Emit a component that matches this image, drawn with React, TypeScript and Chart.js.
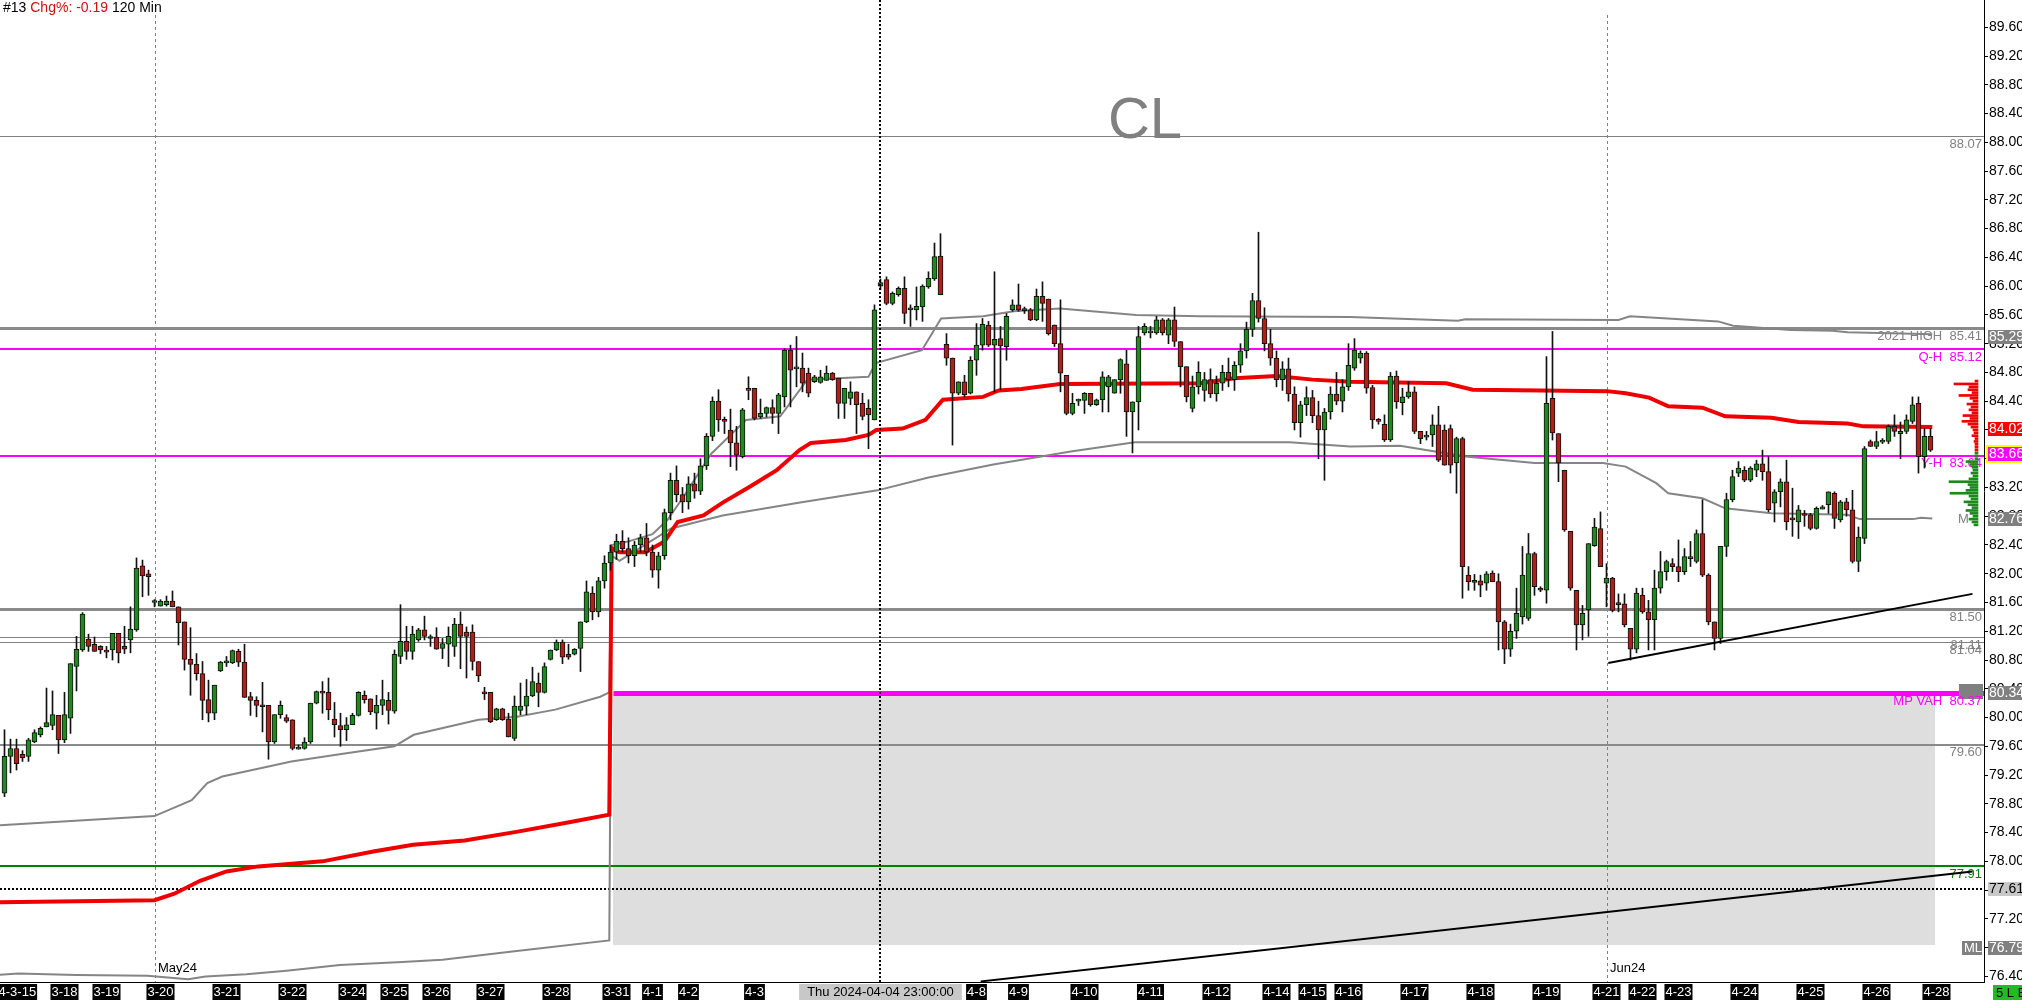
import React, { useEffect, useRef } from "react";
import { Chart, registerables } from "chart.js";

Chart.register(...registerables);

const FONT = "'Liberation Sans', Arial, sans-serif";

// ---------- candle data (120 min bars, index = bar number) ----------
const OPEN = [
  78.95, 79.46, 79.57, 79.49, 79.46, 79.66, 79.76, 79.87, 79.89, 80.03,
  79.69, 79.99, 80.71, 80.94, 81.09, 81.02, 80.99, 80.92, 80.94, 81.17,
  80.99, 81.08, 81.22, 82.11, 82.0, 81.6, 81.55, 81.57, 81.62, 81.54,
  81.33, 80.81, 80.74, 80.61, 80.25, 80.06, 80.65, 80.76, 80.76, 80.92,
  80.77, 80.29, 80.24, 80.17, 80.17, 79.66, 80.04, 80.0, 79.97, 79.56,
  79.57, 79.66, 80.2, 80.35, 80.35, 79.98, 79.89, 79.83, 79.9, 80.03,
  80.31, 80.26, 80.06, 80.17, 80.24, 80.09, 80.85, 81.06, 80.92, 81.08,
  81.22, 81.12, 81.12, 80.96, 81.02, 80.99, 81.3, 81.19, 81.19, 80.78,
  80.35, 80.35, 79.97, 80.12, 79.98, 79.71, 80.1, 80.16, 80.3, 80.48,
  80.35, 80.81, 80.94, 81.05, 80.88, 80.88, 80.96, 81.33, 81.73, 81.47,
  81.9, 82.15, 82.3, 82.45, 82.35, 82.25, 82.4, 82.5, 82.3, 82.05,
  82.25, 82.85, 83.3, 83.1, 83.0, 83.25, 83.15, 83.5, 83.91, 84.4,
  84.14, 84.0, 83.82, 83.63, 84.55, 84.58, 84.18, 84.23, 84.31, 84.23,
  84.46, 85.11, 84.85, 84.86, 84.79, 84.67, 84.66, 84.69, 84.79, 84.72,
  84.37, 84.44, 84.53, 84.37, 84.3, 84.14, 86.0, 86.09, 85.76, 85.88,
  85.97, 85.67, 85.67, 85.71, 85.99, 86.1, 86.42, 85.19, 85.0, 84.51,
  84.67, 84.51, 84.97, 85.18, 85.46, 85.18, 85.27, 85.16, 85.67, 85.74,
  85.67, 85.67, 85.53, 85.86, 85.82, 85.46, 85.2, 84.76, 84.23, 84.4,
  84.41, 84.51, 84.35, 84.42, 84.6, 84.51, 84.7, 84.92, 84.25, 84.39,
  85.35, 85.35, 85.35, 85.53, 85.32, 85.53, 85.23, 84.88, 84.3, 84.6,
  84.55, 84.7, 84.5, 84.65, 84.8, 84.7, 84.9, 85.1, 85.4, 85.8,
  85.55, 85.2, 85.0, 84.7, 84.85, 84.5, 84.1, 84.35, 84.45, 84.2,
  84.0, 84.25, 84.5, 84.4, 84.6, 84.86, 85.0, 85.07, 84.59, 84.14,
  84.08, 83.86, 84.75, 84.38, 84.46, 84.53, 83.98, 83.9, 83.93, 84.07,
  84.0, 84.02, 83.54, 83.88, 81.98, 81.9, 81.9, 81.87, 82.01, 81.89,
  81.33, 80.95, 81.2, 81.4, 81.38, 82.28, 81.8, 81.77, 84.44, 83.95,
  83.44, 82.59, 81.77, 81.29, 81.5, 82.39, 82.63, 81.87, 81.94, 81.58,
  81.58, 81.24, 80.95, 81.7, 81.47, 81.36, 81.8, 82.03, 82.14, 82.1,
  82.03, 82.21, 82.17, 82.56, 81.98, 81.33, 81.1, 82.38, 83.03, 83.4,
  83.44, 83.3, 83.44, 83.53, 83.42, 82.98, 83.14, 83.28, 82.77, 82.72,
  82.83, 82.82, 82.63, 82.9, 82.96, 83.12, 82.75, 83.0, 82.89, 82.17,
  82.49, 83.84, 83.77, 83.83, 83.84, 84.05, 83.95, 83.98, 84.12, 84.37, 83.63, 83.91,
];
const HIGH = [
  79.83, 79.7, 79.7, 79.54, 79.71, 79.83, 79.87, 80.41, 80.37, 80.03,
  80.35, 80.75, 81.13, 81.46, 81.16, 81.12, 81.0, 80.99, 81.17, 81.17,
  81.27, 81.54, 82.22, 82.19, 82.05, 81.64, 81.64, 81.69, 81.76, 81.54,
  81.33, 81.25, 80.89, 80.78, 80.52, 80.45, 80.78, 80.85, 80.94, 80.95,
  81.02, 80.35, 80.29, 80.49, 80.17, 80.04, 80.23, 80.04, 79.97, 79.62,
  79.72, 80.2, 80.37, 80.5, 80.55, 80.21, 80.06, 80.0, 80.06, 80.36,
  80.37, 80.26, 80.31, 80.52, 80.35, 80.94, 81.57, 81.27, 81.27, 81.24,
  81.41, 81.15, 81.25, 81.1, 81.26, 81.38, 81.47, 81.26, 81.29, 80.78,
  80.42, 80.35, 80.13, 80.13, 80.06, 80.3, 80.48, 80.53, 80.7, 80.62,
  80.76, 80.94, 81.08, 81.08, 81.02, 80.96, 81.33, 81.9, 81.82, 81.95,
  82.25, 82.4, 82.55, 82.6, 82.5, 82.45, 82.55, 82.7, 82.4, 82.3,
  82.9, 83.4, 83.5, 83.2, 83.35, 83.4, 83.6, 83.95, 84.46, 84.56,
  84.18, 84.29, 84.05, 84.3, 84.74, 84.58, 84.43, 84.32, 84.42, 84.51,
  85.13, 85.18, 85.3, 85.07, 84.86, 84.76, 84.83, 84.89, 84.8, 84.72,
  84.58, 84.67, 84.53, 84.51, 84.42, 85.74, 86.1, 86.13, 85.92, 85.99,
  86.13, 85.74, 85.99, 86.02, 86.2, 86.6, 86.73, 85.34, 85.0, 84.67,
  84.76, 85.02, 85.48, 85.55, 85.51, 86.2, 85.44, 85.62, 85.81, 86.03,
  85.71, 85.69, 85.96, 86.06, 85.82, 85.46, 85.81, 84.76, 84.51, 84.43,
  84.52, 84.51, 84.43, 84.81, 84.76, 84.7, 84.99, 85.11, 84.39, 85.44,
  85.48, 85.44, 85.58, 85.55, 85.55, 85.71, 85.23, 84.88, 84.75, 84.95,
  84.8, 84.85, 84.75, 84.9, 85.0, 84.95, 85.2, 85.5, 85.9, 86.75,
  85.7, 85.4, 85.1, 84.95, 85.0, 84.6, 84.4, 84.6, 84.55, 84.4,
  84.3, 84.6, 84.8, 84.7, 85.2, 85.27, 85.1, 85.09, 84.62, 84.16,
  84.21, 84.8, 84.82, 84.58, 84.67, 84.6, 83.98, 83.98, 84.21, 84.33,
  84.07, 84.07, 83.9, 83.9, 82.1, 81.99, 81.98, 82.03, 82.04, 82.0,
  81.35, 81.3, 81.8, 82.38, 82.56, 82.3, 81.82, 85.02, 85.37, 83.95,
  83.44, 82.59, 81.77, 81.56, 82.42, 82.77, 82.86, 82.14, 81.95, 81.72,
  81.72, 81.24, 81.8, 81.8, 81.63, 82.05, 82.31, 82.19, 82.21, 82.47,
  82.35, 82.45, 82.61, 83.03, 82.0, 81.33, 82.38, 83.12, 83.44, 83.56,
  83.49, 83.49, 83.58, 83.72, 83.63, 83.17, 83.32, 83.58, 83.19, 82.95,
  82.88, 82.84, 82.93, 82.95, 83.14, 83.14, 83.02, 83.05, 83.16, 82.65,
  83.77, 83.86, 83.98, 83.88, 84.07, 84.21, 84.11, 84.21, 84.46, 84.46, 84.02, 84.02,
];
const LOW = [
  78.9, 79.23, 79.27, 79.39, 79.39, 79.65, 79.73, 79.87, 79.83, 79.5,
  79.65, 79.78, 80.37, 80.92, 80.92, 80.92, 80.89, 80.83, 80.8, 80.76,
  80.89, 80.9, 81.2, 81.68, 81.7, 81.54, 81.55, 81.55, 81.54, 81.01,
  80.66, 80.31, 80.52, 79.97, 79.94, 79.97, 80.64, 80.71, 80.75, 80.71,
  80.28, 80.03, 80.01, 79.8, 79.42, 79.64, 79.99, 79.93, 79.55, 79.56,
  79.56, 79.64, 80.19, 80.06, 79.97, 79.73, 79.6, 79.68, 79.9, 80.02,
  80.2, 80.04, 79.84, 80.04, 79.91, 80.06, 80.75, 80.81, 80.81, 81.06,
  81.08, 80.99, 80.95, 80.82, 80.71, 80.85, 80.68, 80.55, 80.66, 80.5,
  80.25, 79.93, 79.96, 79.96, 79.73, 79.68, 80.04, 80.04, 80.29, 80.15,
  80.34, 80.8, 80.93, 80.75, 80.81, 80.87, 80.64, 81.32, 81.36, 81.4,
  81.8, 82.05, 82.2, 82.3, 82.15, 82.1, 82.3, 82.25, 81.95, 81.8,
  82.2, 82.75, 83.0, 82.85, 82.9, 83.05, 83.1, 83.45, 83.85, 83.98,
  83.95, 83.49, 83.44, 83.61, 84.42, 84.14, 84.16, 84.18, 84.09, 83.95,
  84.32, 84.32, 84.6, 84.53, 84.46, 84.66, 84.65, 84.69, 84.69, 84.16,
  84.16, 84.35, 83.95, 84.14, 83.74, 84.14, 85.95, 85.74, 85.74, 85.86,
  85.48, 85.44, 85.53, 85.51, 85.97, 86.08, 85.88, 84.9, 83.79, 84.49,
  84.46, 84.5, 84.76, 85.11, 85.16, 84.53, 84.56, 84.97, 85.65, 85.65,
  85.62, 85.52, 85.52, 85.51, 85.32, 85.16, 84.53, 84.21, 84.21, 84.34,
  84.23, 84.33, 84.34, 84.25, 84.25, 84.51, 84.51, 83.91, 83.68, 84.0,
  85.32, 85.28, 85.33, 85.32, 85.2, 85.16, 84.6, 84.39, 84.25, 84.5,
  84.4, 84.45, 84.4, 84.55, 84.6, 84.55, 84.8, 85.0, 85.3, 85.5,
  85.1, 84.9, 84.6, 84.55, 84.4, 84.0, 83.9, 84.2, 84.1, 83.6,
  83.3, 84.15, 84.35, 84.25, 84.55, 84.83, 84.93, 84.51, 84.02, 84.08,
  83.84, 83.84, 84.3, 84.21, 84.44, 83.95, 83.81, 83.86, 83.77, 83.56,
  83.51, 83.4, 83.12, 81.66, 81.77, 81.77, 81.68, 81.77, 81.89, 80.94,
  80.75, 80.85, 81.1, 81.3, 81.35, 81.7, 81.75, 81.59, 83.86, 83.28,
  82.59, 81.77, 80.94, 81.08, 81.13, 82.38, 82.1, 81.54, 81.47, 81.47,
  81.26, 80.8, 80.9, 81.45, 80.94, 80.94, 81.73, 81.91, 82.03, 81.89,
  81.99, 82.1, 82.15, 81.96, 81.29, 80.94, 81.03, 82.24, 83.0, 83.35,
  83.28, 83.28, 83.35, 83.3, 82.86, 82.72, 82.93, 82.61, 82.52, 82.49,
  82.66, 82.61, 82.62, 82.9, 82.84, 82.63, 82.72, 82.8, 82.15, 82.03,
  82.42, 83.77, 83.74, 83.81, 83.81, 83.91, 83.6, 83.95, 84.09, 83.4, 83.47, 83.7,
];
const CLOSE = [
  79.46, 79.57, 79.36, 79.44, 79.69, 79.79, 79.85, 79.93, 80.04, 79.69,
  80.04, 80.75, 80.95, 81.44, 80.99, 80.92, 80.94, 80.91, 81.17, 80.9,
  80.95, 81.23, 82.08, 81.97, 81.96, 81.6, 81.62, 81.62, 81.54, 81.32,
  80.81, 80.74, 80.61, 80.24, 80.06, 80.45, 80.77, 80.77, 80.93, 80.77,
  80.28, 80.24, 80.17, 80.15, 79.66, 80.04, 80.17, 79.95, 79.57, 79.57,
  79.66, 80.2, 80.36, 80.34, 80.11, 79.9, 79.83, 79.9, 80.03, 80.35,
  80.25, 80.08, 80.17, 80.25, 80.1, 80.88, 81.06, 80.92, 81.16, 81.22,
  81.13, 81.1, 80.95, 81.03, 81.13, 81.3, 81.13, 81.13, 80.78, 80.58,
  80.33, 79.94, 80.12, 79.97, 79.73, 80.16, 80.16, 80.3, 80.5, 80.35,
  80.71, 80.94, 81.05, 80.84, 80.84, 80.95, 81.33, 81.75, 81.47, 81.9,
  82.15, 82.3, 82.45, 82.35, 82.25, 82.4, 82.5, 82.3, 82.05, 82.25,
  82.85, 83.3, 83.1, 83.0, 83.25, 83.15, 83.5, 83.91, 84.4, 84.14,
  84.12, 83.82, 83.65, 84.28, 84.57, 84.16, 84.23, 84.31, 84.23, 84.49,
  85.11, 84.83, 84.87, 84.65, 84.51, 84.74, 84.74, 84.79, 84.7, 84.37,
  84.58, 84.53, 84.35, 84.19, 84.21, 85.67, 86.05, 85.76, 85.9, 85.97,
  85.62, 85.7, 85.72, 86.0, 86.11, 86.41, 85.88, 85.0, 84.51, 84.67,
  84.49, 84.97, 85.18, 85.47, 85.18, 85.26, 85.17, 85.58, 85.74, 85.67,
  85.66, 85.53, 85.86, 85.76, 85.34, 85.2, 84.79, 84.23, 84.37, 84.41,
  84.51, 84.35, 84.42, 84.74, 84.74, 84.7, 84.98, 84.25, 84.39, 85.3,
  85.44, 85.37, 85.53, 85.35, 85.53, 85.23, 84.88, 84.46, 84.6, 84.8,
  84.7, 84.5, 84.65, 84.8, 84.7, 84.9, 85.1, 85.4, 85.8, 85.55,
  85.2, 85.0, 84.7, 84.85, 84.5, 84.1, 84.35, 84.45, 84.2, 84.0,
  84.25, 84.5, 84.4, 84.6, 84.9, 85.11, 85.07, 84.58, 84.14, 84.12,
  83.86, 84.75, 84.39, 84.46, 84.53, 83.98, 83.88, 83.92, 84.07, 83.58,
  83.51, 83.51, 83.88, 82.1, 81.89, 81.88, 81.84, 82.0, 81.89, 81.33,
  80.95, 81.2, 81.45, 81.98, 82.28, 81.82, 81.77, 84.37, 83.96, 83.54,
  82.61, 81.8, 81.29, 81.45, 82.42, 82.65, 82.1, 81.94, 81.49, 81.57,
  81.29, 80.95, 81.73, 81.47, 81.36, 81.8, 82.03, 82.17, 82.1, 82.03,
  82.24, 82.24, 82.56, 81.98, 81.33, 81.1, 82.38, 83.03, 83.35, 83.47,
  83.3, 83.47, 83.53, 83.42, 82.89, 83.14, 83.28, 82.72, 82.75, 82.89,
  82.81, 82.63, 82.91, 82.93, 83.14, 82.77, 83.0, 82.89, 82.17, 82.51,
  83.74, 83.77, 83.84, 83.85, 84.05, 83.98, 83.98, 84.14, 84.35, 83.63, 83.91, 83.72,
];

// ---------- indicator lines (bar index, price) ----------
const VWAP_X = [-1, 25, 28.3, 32.6, 37, 42.3, 53, 61.7, 68.1, 76.7, 85.3, 93.9, 100.8, 101.2, 102.5, 106.8, 110, 112.2, 116.5, 119.7, 124, 128.7, 132.5, 134.4, 140.2, 144, 145.3, 149.7, 153.5, 156.4, 163.1, 165.7, 169.5, 175.9, 199.3, 205, 212, 218, 224.3, 240.3, 244.7, 256.2, 267.1, 270.2, 274.1, 277.3, 283, 286.8, 294.5, 299, 307.2, 309.8, 321.3];
const VWAP_Y = [77.43, 77.46, 77.55, 77.73, 77.86, 77.93, 78.0, 78.14, 78.23, 78.29, 78.41, 78.54, 78.65, 82.36, 82.3, 82.3, 82.45, 82.72, 82.81, 82.99, 83.2, 83.44, 83.72, 83.82, 83.86, 83.93, 84.0, 84.02, 84.14, 84.42, 84.46, 84.55, 84.57, 84.64, 84.65, 84.72, 84.75, 84.7, 84.67, 84.65, 84.56, 84.55, 84.54, 84.51, 84.45, 84.33, 84.31, 84.19, 84.17, 84.11, 84.09, 84.05, 84.04];

const UPPER_X = [-1, 25, 31.2, 33.8, 36.3, 44, 47.8, 56.7, 65, 68.2, 79, 85.4, 91.8, 99.3, 100.8, 101.2, 104, 108, 110.5, 113, 117.8, 123.6, 129.3, 133.8, 138.9, 144, 145.2, 152.9, 156.1, 163.1, 168.2, 175.9, 188.6, 199.3, 224.3, 242.2, 243.5, 269, 270.9, 285.6, 288.1, 297.7, 304.7, 307.2, 321.3];
const UPPER_Y = [78.5, 78.63, 78.85, 79.09, 79.18, 79.32, 79.39, 79.5, 79.6, 79.76, 79.97, 80.01, 80.11, 80.29, 80.35, 82.4, 82.45, 82.55, 82.75, 83.05, 83.67, 84.14, 84.19, 84.7, 84.72, 84.74, 84.93, 85.11, 85.55, 85.58, 85.65, 85.69, 85.6, 85.58, 85.57, 85.52, 85.54, 85.53, 85.58, 85.51, 85.45, 85.39, 85.38, 85.36, 85.33];

const LOWER_X = [-1, 2.3, 12, 23.8, 30.6, 33.5, 40.3, 47, 55.9, 66.3, 73, 85, 100.8, 101.2, 102.5, 111.1, 119.7, 132.6, 145.5, 154, 164.8, 171.3, 177.7, 188.4, 214.2, 224.3, 232.6, 243.5, 255, 266.4, 270.2, 275.3, 277.3, 283, 286.8, 294.5, 307.2, 309.2, 318.1, 319.4, 321.3];
const LOWER_Y = [76.42, 76.44, 76.42, 76.41, 76.36, 76.4, 76.43, 76.48, 76.56, 76.6, 76.63, 76.75, 76.9, 82.25, 82.18, 82.63, 82.81, 82.99, 83.16, 83.34, 83.52, 83.61, 83.7, 83.83, 83.83, 83.77, 83.78, 83.63, 83.54, 83.54, 83.49, 83.26, 83.12, 83.05, 82.91, 82.84, 82.82, 82.76, 82.76, 82.78, 82.77];

const TREND1_X = [267.3, 328.0];
const TREND1_Y = [80.76, 81.72];
const TREND2_X = [162.7, 328.0];
const TREND2_Y = [76.33, 77.86];

// ---------- volume profile ----------
const VP_PRICE = [84.68, 84.64, 84.6, 84.56, 84.52, 84.48, 84.44, 84.4, 84.36, 84.32, 84.28, 84.24, 84.2, 84.16, 84.12, 84.08, 84.04, 84.0, 83.96, 83.92, 83.88, 83.84, 83.8, 83.76, 83.72, 83.68, 83.64, 83.6, 83.56, 83.52, 83.48, 83.44, 83.4, 83.36, 83.32, 83.28, 83.24, 83.2, 83.16, 83.12, 83.08, 83.04, 83.0, 82.96, 82.92, 82.88, 82.84, 82.8, 82.76, 82.72, 82.68];
const VP_VOL = [3, 24, 9, 10, 6, 19, 8, 5, 11, 7, 9, 6, 15, 8, 16, 10, 7, 5, 4, 6, 3, 4, 3, 3, 3, 3, 3, 3, 12, 8, 6, 5, 7, 5, 9, 29, 10, 8, 12, 28, 9, 7, 14, 10, 6, 12, 8, 5, 9, 6, 4];
const VP_SPLIT = 83.7;

// ---------- levels ----------
const LEVEL_VALUES = [88.08, 85.41, 85.12, 83.64, 81.5, 81.11, 81.04, 80.34, 79.62, 77.93, 77.61];
const LEVEL_LABELS = ["88.07", "2021 HIGH  85.41", "Q-H  85.12", "Y-H  83.64", "81.50", "81.11", "81.04", "MP VAH  80.37", "79.60", "77.91", ""];
const LEVEL_STYLE = [
  { color: "#808080", width: 1, text: "#808080" },
  { color: "#8a8a8a", width: 3, text: "#808080" },
  { color: "#ff00ff", width: 2, text: "#ff00ff" },
  { color: "#ff00ff", width: 2, text: "#ff00ff" },
  { color: "#8a8a8a", width: 3, text: "#808080" },
  { color: "#808080", width: 1, text: "#808080" },
  { color: "#808080", width: 1, text: "#808080" },
  { color: "#ff00ff", width: 5, text: "#ff00ff", from: 101.5 },
  { color: "#8a8a8a", width: 2, text: "#808080" },
  { color: "#008000", width: 2, text: "#008000" },
  { color: "#000000", width: 2, text: "#000", dash: [2, 2] },
];

const SHADE_X = [101.5, 321.75];
const SHADE_Y = [80.34, 76.84];

const DATE_LINE_X = [25.25, 267.25];
const DATE_LINE_LABELS = ["May24", "Jun24"];
const CROSSHAIR_X = 146.0;
const CROSSHAIR_LABEL = "Thu 2024-04-04 23:00:00";

const AXIS_BOX_VALUES = [85.29, 84.02, 83.66, 82.76, 80.34, 77.61, 76.79];
const AXIS_BOX_STYLE = [
  { bg: "#808080", fg: "#ffffff" },
  { bg: "#ff0000", fg: "#ffffff" },
  { bg: "#ff00ff", fg: "#ffffff", ring: "#ffff00" },
  { bg: "#808080", fg: "#ffffff" },
  { bg: "#808080", fg: "#ffffff" },
  { bg: "#c8c8c8", fg: "#000000" },
  { bg: "#808080", fg: "#ffffff" },
];

const Y_TICKS = [76.4, 76.8, 77.2, 77.6, 78.0, 78.4, 78.8, 79.2, 79.6, 80.0, 80.4, 80.8, 81.2, 81.6, 82.0, 82.4, 82.8, 83.2, 83.6, 84.0, 84.4, 84.8, 85.2, 85.6, 86.0, 86.4, 86.8, 87.2, 87.6, 88.0, 88.4, 88.8, 89.2, 89.6];
const X_TICK_POS = [0.33, 10, 17, 26, 37, 48, 58, 65, 72, 81, 92, 102, 108, 114, 125, 162, 169, 180, 191, 202, 212, 218, 224, 235, 246, 257, 267, 273, 279, 290, 301, 312, 322];
const X_TICK_LABELS = ["2024-3-15", "3-18", "3-19", "3-20", "3-21", "3-22", "3-24", "3-25", "3-26", "3-27", "3-28", "3-31", "4-1", "4-2", "4-3", "4-8", "4-9", "4-10", "4-11", "4-12", "4-14", "4-15", "4-16", "4-17", "4-18", "4-19", "4-21", "4-22", "4-23", "4-24", "4-25", "4-26", "4-28"];

const TITLE_PARTS = ["#13 ", "Chg%: -0.19 ", "120 Min"];
const SYMBOL = "CL";

const Y_MIN = 76.322;
const Y_MAX = 89.98;
const X_MIN = -0.75;
const X_MAX = 329.92;

const crisp = (v: number, w: number) => (Math.round(w) % 2 === 1 ? Math.floor(v) + 0.5 : Math.round(v));

const overlayPlugin = {
  id: "overlay",
  beforeDatasetsDraw(chart: any) {
    const { ctx, chartArea: a } = chart;
    const xs = chart.scales.x;
    const ys = chart.scales.y;
    ctx.save();
    ctx.beginPath();
    ctx.rect(a.left, a.top, a.right - a.left, a.bottom - a.top);
    ctx.clip();

    const sx0 = Math.round(xs.getPixelForValue(SHADE_X[0]));
    const sx1 = Math.round(xs.getPixelForValue(SHADE_X[1]));
    const sy0 = Math.round(ys.getPixelForValue(SHADE_Y[0]));
    const sy1 = Math.round(ys.getPixelForValue(SHADE_Y[1]));
    ctx.fillStyle = "#dedede";
    ctx.fillRect(sx0, sy0, sx1 - sx0, sy1 - sy0);

    ctx.fillStyle = "#808080";
    ctx.font = `58px ${FONT}`;
    ctx.textAlign = "center";
    ctx.textBaseline = "middle";
    ctx.fillText(SYMBOL, 1145, 122);

    ctx.strokeStyle = "#808080";
    ctx.lineWidth = 1;
    ctx.setLineDash([3, 3]);
    DATE_LINE_X.forEach((v) => {
      const x = crisp(xs.getPixelForValue(v), 1);
      ctx.beginPath();
      ctx.moveTo(x, 15);
      ctx.lineTo(x, a.bottom);
      ctx.stroke();
    });
    ctx.setLineDash([]);
    ctx.fillStyle = "#000";
    ctx.font = `13px ${FONT}`;
    ctx.textAlign = "left";
    DATE_LINE_X.forEach((v, k) => {
      ctx.fillText(DATE_LINE_LABELS[k], xs.getPixelForValue(v) + 2, a.bottom - 14);
    });

    LEVEL_VALUES.forEach((v, k) => {
      const st: any = LEVEL_STYLE[k];
      const y = crisp(ys.getPixelForValue(v), st.width);
      const x0 = st.from != null ? xs.getPixelForValue(st.from) : a.left;
      ctx.strokeStyle = st.color;
      ctx.lineWidth = st.width;
      ctx.setLineDash(st.dash || []);
      ctx.beginPath();
      ctx.moveTo(x0, y);
      ctx.lineTo(a.right, y);
      ctx.stroke();
    });
    ctx.setLineDash([]);

    const vy = ys.getPixelForValue(LEVEL_VALUES[7]);
    ctx.fillStyle = "#808080";
    ctx.fillRect(a.right - 25, Math.round(vy) - 9, 24, 15);

    ctx.font = `13px ${FONT}`;
    ctx.textAlign = "right";
    ctx.textBaseline = "middle";
    LEVEL_VALUES.forEach((v, k) => {
      if (!LEVEL_LABELS[k]) return;
      ctx.fillStyle = LEVEL_STYLE[k].text;
      ctx.fillText(LEVEL_LABELS[k], a.right - 2, ys.getPixelForValue(v) + 8);
    });
    ctx.restore();
  },
  afterDatasetsDraw(chart: any) {
    const { ctx, chartArea: a } = chart;
    const xs = chart.scales.x;
    const ys = chart.scales.y;
    ctx.save();
    const cx = crisp(xs.getPixelForValue(CROSSHAIR_X), 2);
    ctx.strokeStyle = "#000";
    ctx.lineWidth = 2;
    ctx.setLineDash([2, 2]);
    ctx.beginPath();
    ctx.moveTo(cx, a.top);
    ctx.lineTo(cx, a.bottom);
    ctx.stroke();
    ctx.setLineDash([]);
    ctx.font = `13px ${FONT}`;
    ctx.fillStyle = "#808080";
    ctx.textAlign = "left";
    ctx.textBaseline = "middle";
    ctx.fillText("M", a.right - 26, ys.getPixelForValue(LOWER_Y[LOWER_Y.length - 1]) + 1);
    const my = ys.getPixelForValue(AXIS_BOX_VALUES[6]);
    ctx.fillStyle = "#808080";
    ctx.fillRect(a.right - 22, Math.round(my) - 7, 20, 14);
    ctx.fillStyle = "#ffffff";
    ctx.fillText("ML", a.right - 20, my);
    ctx.restore();
  },
  afterDraw(chart: any) {
    const { ctx, chartArea: a } = chart;
    const xs = chart.scales.x;
    const ys = chart.scales.y;
    ctx.save();
    ctx.font = `14px ${FONT}`;
    ctx.textAlign = "left";
    ctx.textBaseline = "middle";
    AXIS_BOX_VALUES.forEach((v, k) => {
      const st: any = AXIS_BOX_STYLE[k];
      const y = Math.round(ys.getPixelForValue(v));
      if (st.ring) {
        ctx.fillStyle = st.ring;
        ctx.fillRect(a.right + 2, y - 9, 40, 18);
      }
      ctx.fillStyle = st.bg;
      ctx.fillRect(a.right + 4, y - 7, 40, 14);
      ctx.fillStyle = st.fg;
      ctx.fillText(v.toFixed(2), a.right + 5, y + 0.5);
    });

    ctx.font = `13px ${FONT}`;
    const cx = xs.getPixelForValue(CROSSHAIR_X);
    const tw = ctx.measureText(CROSSHAIR_LABEL).width;
    ctx.fillStyle = "#c8c8c8";
    ctx.fillRect(cx - tw / 2 - 8, a.bottom + 2, tw + 16, 18);
    ctx.fillStyle = "#000";
    ctx.textAlign = "center";
    ctx.fillText(CROSSHAIR_LABEL, cx, a.bottom + 10);

    ctx.fillStyle = "#22bb22";
    ctx.fillRect(a.right + 9, a.bottom + 3, 40, 16);
    ctx.fillStyle = "#000";
    ctx.textAlign = "left";
    ctx.fillText("5 L E", a.right + 12, a.bottom + 11);

    ctx.font = `14px ${FONT}`;
    let tx = 3;
    const colors = ["#000", "#d01010", "#000"];
    TITLE_PARTS.forEach((t, k) => {
      ctx.fillStyle = colors[k];
      ctx.fillText(t, tx, 8);
      tx += ctx.measureText(t).width;
    });
    ctx.restore();
  },
};

export default function App() {
  const ref = useRef<HTMLCanvasElement>(null);
  useEffect(() => {
    document.body.style.margin = "0";
    const canvas = ref.current;
    if (!canvas) return;

    const wickData = HIGH.map((h, i) => ({ x: i, y: [LOW[i], h] }));
    const bodyData = OPEN.map((o, i) => ({ x: i, y: [Math.min(o, CLOSE[i]), Math.max(o, CLOSE[i])] }));
    const bodyColors = OPEN.map((o, i) => (CLOSE[i] >= o ? "#1f8a1f" : "#b01e1e"));
    const toPts = (xa: number[], ya: number[]) => xa.map((x, k) => ({ x, y: ya[k] }));

    const chart = new Chart(canvas, {
      type: "bar",
      data: {
        datasets: [
          { type: "line", data: toPts(TREND1_X, TREND1_Y), borderColor: "#000", borderWidth: 2, pointRadius: 0, order: 0 } as any,
          { type: "line", data: toPts(TREND2_X, TREND2_Y), borderColor: "#000", borderWidth: 2, pointRadius: 0, order: 0 } as any,
          {
            type: "bar", data: bodyData, backgroundColor: bodyColors, borderColor: "#111", borderWidth: 1,
            borderSkipped: false, barThickness: 5, grouped: false, minBarLength: 2, order: 1,
          } as any,
          { type: "bar", data: wickData, backgroundColor: "#111", barThickness: 1, grouped: false, order: 2 } as any,
          {
            type: "bar", indexAxis: "y", xAxisID: "xv", yAxisID: "y",
            data: VP_PRICE.map((p, k) => ({ x: VP_VOL[k], y: p })),
            backgroundColor: VP_PRICE.map((p) => (p >= VP_SPLIT ? "#ee0000" : "#1a8a1a")),
            barThickness: 2, grouped: false, order: 3,
          } as any,
          { type: "line", data: toPts(VWAP_X, VWAP_Y), borderColor: "#ee0000", borderWidth: 4, pointRadius: 0, order: 5 } as any,
          { type: "line", data: toPts(UPPER_X, UPPER_Y), borderColor: "#858585", borderWidth: 2, pointRadius: 0, order: 6 } as any,
          { type: "line", data: toPts(LOWER_X, LOWER_Y), borderColor: "#858585", borderWidth: 2, pointRadius: 0, order: 6 } as any,
        ],
      },
      options: {
        animation: false,
        responsive: false,
        devicePixelRatio: 1,
        events: [],
        layout: { padding: 0, autoPadding: false } as any,
        plugins: { legend: { display: false }, tooltip: { enabled: false } },
        scales: {
          x: {
            type: "linear", position: "bottom", min: X_MIN, max: X_MAX, offset: false,
            grid: { display: false, drawOnChartArea: false, drawTicks: false, offset: false },
            border: { display: true, color: "#000", width: 1 },
            ticks: {
              autoSkip: false, maxRotation: 0, minRotation: 0, color: "#ffffff", padding: 3,
              font: { family: FONT, size: 13 },
              showLabelBackdrop: true, backdropColor: "#000000",
              backdropPadding: { top: 1, bottom: 0, left: 1, right: 1 },
              callback: (_v: any, idx: number) => X_TICK_LABELS[idx],
            },
            afterBuildTicks: (s: any) => { s.ticks = X_TICK_POS.map((v) => ({ value: v })); },
            afterFit: (s: any) => { s.height = 18; s.paddingLeft = 0; s.paddingRight = 0; },
          } as any,
          y: {
            type: "linear", position: "right", min: Y_MIN, max: Y_MAX, offset: false,
            grid: { display: true, drawOnChartArea: false, drawTicks: true, tickLength: 4, color: "#000", offset: false },
            border: { display: true, color: "#000", width: 1 },
            ticks: {
              color: "#000", padding: 1, font: { family: FONT, size: 14 }, autoSkip: false,
              callback: (v: any) => Number(v).toFixed(2),
            },
            afterBuildTicks: (s: any) => { s.ticks = Y_TICKS.map((v) => ({ value: v })); },
            afterFit: (s: any) => { s.width = 38; s.paddingTop = 0; s.paddingBottom = 0; },
          } as any,
          xv: { type: "linear", display: false, reverse: true, min: -6, max: 1978, offset: false } as any,
        },
      } as any,
      plugins: [overlayPlugin],
    });
    return () => chart.destroy();
  }, []);
  return <canvas ref={ref} width={2022} height={1000} style={{ display: "block", width: 2022, height: 1000 }} />;
}
